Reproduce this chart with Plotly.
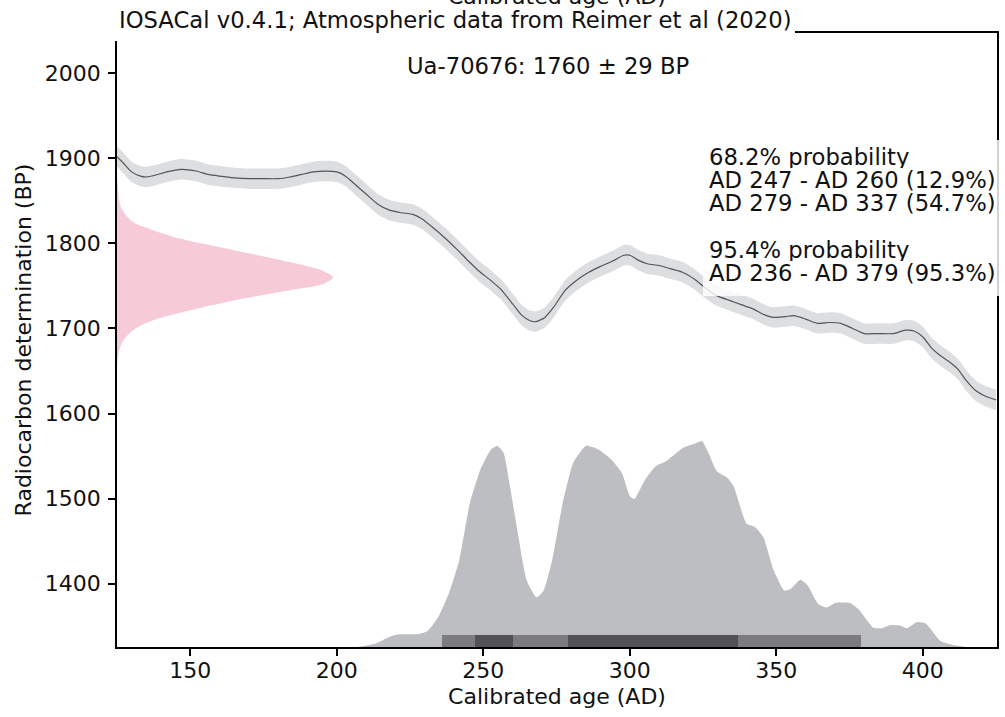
import plotly.graph_objects as go

# ---- calibration curve (IntCal20) ----
curve_ad = [125, 127, 130, 133, 135, 138, 142, 147, 152, 156, 160, 165, 170, 175, 180, 184, 188, 192, 196, 200,
            203, 206, 210, 214, 218, 222, 226, 229, 233, 237, 241, 245, 249, 252, 256, 260, 263, 266, 268, 271,
            274, 278, 282, 286, 290, 294, 298, 300, 303, 306, 310, 314, 318, 322, 326, 330, 334, 338, 342, 346,
            349, 353, 356, 360, 364, 368, 372, 376, 380, 385, 390, 394, 397, 400, 403, 406, 409, 412, 415, 418,
            421, 425]
curve_bp = [1902, 1895, 1884, 1879, 1878, 1880, 1884, 1887, 1885, 1881, 1879, 1877, 1876, 1876, 1876, 1878, 1881, 1884, 1885, 1884,
            1879, 1870, 1858, 1846, 1839, 1836, 1834, 1829, 1818, 1806, 1793, 1779, 1766, 1758, 1746, 1729, 1716, 1709, 1708, 1713,
            1725, 1745, 1757, 1766, 1773, 1779, 1786, 1786, 1780, 1776, 1774, 1770, 1766, 1758, 1747, 1738, 1733, 1728, 1723, 1716,
            1713, 1714, 1715, 1711, 1706, 1707, 1706, 1700, 1694, 1694, 1694, 1698, 1697, 1690, 1677, 1668, 1661, 1652, 1638, 1627,
            1621, 1616]
curve_err = [12, 12, 12, 12, 12, 12, 12, 12, 12, 12, 12, 12, 12, 12, 12, 12, 12, 12, 12, 12,
             12, 12, 12, 12, 12, 12, 12, 12, 12, 12, 12, 12, 12, 12, 12, 12, 12, 12, 12, 12,
             12, 12, 12, 12, 12, 12, 12, 12, 12, 12, 12, 12, 12, 12, 12, 12, 12, 12, 12, 12,
             12, 12, 12, 12, 12, 12, 12, 12, 12, 12, 12, 12, 12, 12, 12, 12, 12, 12, 12, 12,
             12, 12]

# ---- radiocarbon determination (Ua-70676: 1760 +/- 29 BP), relative density ----
rc_bp = [1882, 1870, 1856, 1841, 1825, 1817, 1805, 1792, 1778, 1768, 1760, 1752, 1745, 1733, 1719, 1708, 1698, 1684, 1669, 1652]
rc_dens = [0.0, 0.003, 0.008, 0.02, 0.074, 0.15, 0.30, 0.54, 0.80, 0.95, 1.0, 0.95, 0.80, 0.54, 0.30, 0.15, 0.074, 0.024, 0.006, 0.0]

# ---- calibrated probability distribution (relative) ----
cal_ad = [207, 213, 218.7, 221.6, 227.4, 231, 234.6, 238.2, 241.8, 245.4, 249, 252.6, 254.8, 256.9, 259.1, 262, 264.8, 268.2,
          270.6, 273.5, 277.1, 280.7, 285, 289.3, 293.7, 297.3, 300.1, 301.6, 305.2, 308.8, 312.4, 318.2, 322.5, 324.6,
          326.8, 329.7, 333.3, 335.4, 339.8, 342.6, 345.5, 349.1, 352.7, 354.9, 358.2, 360.7, 364.3, 367.2, 370.1, 375.1,
          378, 383, 385.9, 388.8, 392.4, 394.5, 398.1, 401, 406, 410.3, 414.7]
cal_p = [0.0, 0.016, 0.054, 0.062, 0.062, 0.078, 0.144, 0.258, 0.421, 0.698, 0.861, 0.959, 0.976, 0.943, 0.78, 0.535, 0.323, 0.241,
         0.274, 0.421, 0.698, 0.894, 0.976, 0.959, 0.91, 0.845, 0.731, 0.719, 0.812, 0.878, 0.902, 0.967, 0.989, 1.0,
         0.943, 0.853, 0.821, 0.78, 0.6, 0.584, 0.535, 0.372, 0.274, 0.282, 0.326, 0.299, 0.209, 0.192, 0.214, 0.214,
         0.184, 0.095, 0.091, 0.106, 0.103, 0.091, 0.121, 0.114, 0.029, 0.01, 0.0]

# ---- HPD intervals ----
hpd95_lo = [236]
hpd95_hi = [379]
hpd68_lo = [247, 279]
hpd68_hi = [260, 337]
bar_h = 0.057

x_ticks = [150, 200, 250, 300, 350, 400]
y_ticks = [1400, 1500, 1600, 1700, 1800, 1900, 2000]

title_text = "IOSACal v0.4.1; Atmospheric data from Reimer et al (2020)"
sample_text = "Ua-70676: 1760 ± 29 BP"
prob_lines = ["68.2% probability", "AD 247 - AD 260 (12.9%)", "AD 279 - AD 337 (54.7%)",
              "95.4% probability", "AD 236 - AD 379 (95.3%)"]
prob_line_y = [156, 179, 202, 249, 272]  # pixel rows

FONT = "DejaVu Sans"
FS = 22
FS_TXT = 22.7
W, H = 1005, 717
ML, MR, MT, MB = 117, 8, 33, 70
PW, PH = W - ML - MR, H - MT - MB


def py(px):
    return (H - MB - px) / PH


def pxx(px):
    return (px - ML) / PW


fig = go.Figure()

upper = [b + e for b, e in zip(curve_bp, curve_err)]
lower = [b - e for b, e in zip(curve_bp, curve_err)]
fig.add_trace(go.Scatter(x=curve_ad, y=upper, mode="lines", line=dict(width=0, shape="spline", smoothing=0.6),
                         hoverinfo="skip", showlegend=False))
fig.add_trace(go.Scatter(x=curve_ad, y=lower, mode="lines", line=dict(width=0, shape="spline", smoothing=0.6),
                         fill="tonexty", fillcolor="rgb(221,222,224)", hoverinfo="skip", showlegend=False))
fig.add_trace(go.Scatter(x=curve_ad, y=curve_bp, mode="lines",
                         line=dict(color="rgb(85,85,88)", width=1.2, shape="spline", smoothing=0.6),
                         showlegend=False))

# radiocarbon determination (pink)
fig.add_trace(go.Scatter(x=rc_dens, y=rc_bp, xaxis="x2", yaxis="y", mode="lines",
                         line=dict(width=0, shape="spline", smoothing=0.8), fill="tozerox",
                         fillcolor="rgb(246,202,214)", showlegend=False))

# calibrated distribution
fig.add_trace(go.Scatter(x=cal_ad, y=cal_p, xaxis="x", yaxis="y2", mode="lines",
                         line=dict(width=0, shape="spline", smoothing=0.5), fill="tozeroy",
                         fillcolor="rgb(189,190,193)", showlegend=False))

# HPD interval bars (own overlay so they sit above the distribution)
fig.add_trace(go.Bar(x=[(a + b) / 2 for a, b in zip(hpd95_lo, hpd95_hi)],
                     width=[b - a for a, b in zip(hpd95_lo, hpd95_hi)],
                     y=[bar_h] * len(hpd95_lo), base=0, xaxis="x", yaxis="y3",
                     marker=dict(color="rgb(124,124,128)", line=dict(width=0)), showlegend=False))
fig.add_trace(go.Bar(x=[(a + b) / 2 for a, b in zip(hpd68_lo, hpd68_hi)],
                     width=[b - a for a, b in zip(hpd68_lo, hpd68_hi)],
                     y=[bar_h] * len(hpd68_lo), base=0, xaxis="x", yaxis="y3",
                     marker=dict(color="rgb(82,82,86)", line=dict(width=0)), showlegend=False))

axis_common = dict(showline=True, linecolor="black", linewidth=1.6, mirror=True, ticks="outside",
                   ticklen=7, tickwidth=1.6, tickcolor="black", showgrid=False, zeroline=False,
                   automargin=False, tickfont=dict(family=FONT, size=FS, color="#111"))

fig.update_layout(
    template="none",
    width=W, height=H, margin=dict(l=ML, r=MR, t=MT, b=MB),
    paper_bgcolor="white", plot_bgcolor="white", barmode="overlay", bargap=0,
    xaxis=dict(range=[125, 425.3], tickvals=x_ticks, ticklabelstandoff=-4, **axis_common,
               title=dict(text="Calibrated age (AD)", font=dict(family=FONT, size=FS, color="#111"), standoff=6)),
    yaxis=dict(range=[1325.7, 2047.2], tickvals=y_ticks, ticklabelstandoff=3, **axis_common,
               title=dict(text="Radiocarbon determination (BP)", font=dict(family=FONT, size=FS, color="#111"),
                          standoff=7)),
    xaxis2=dict(overlaying="x", range=[0, PW / 216], visible=False),
    yaxis2=dict(overlaying="y", range=[0, PH / 206], visible=False),
    yaxis3=dict(overlaying="y", range=[0, PH / 206], visible=False),
    font=dict(family=FONT, color="#111"),
)

# white box behind the title (hides the top-left spine)
fig.add_shape(type="rect", xref="paper", yref="paper", x0=pxx(111), x1=pxx(795), y0=py(41), y1=py(4),
              fillcolor="white", line=dict(width=0), layer="above")
# semi-transparent box behind probability text
fig.add_shape(type="rect", xref="paper", yref="paper", x0=pxx(703), x1=pxx(1010), y0=py(296), y1=py(140),
              fillcolor="rgba(255,255,255,0.82)", line=dict(width=0), layer="above")

# cut top axis label
fig.add_annotation(text="Calibrated age (AD)", xref="paper", yref="paper", x=0.5, y=py(-3),
                   xanchor="center", yanchor="middle", showarrow=False,
                   font=dict(family=FONT, size=FS, color="#111"))
fig.add_annotation(text=title_text, xref="paper", yref="paper", x=pxx(117), y=py(20),
                   xanchor="left", yanchor="middle", showarrow=False,
                   font=dict(family=FONT, size=FS_TXT, color="#111"))
fig.add_annotation(text=sample_text, xref="paper", yref="paper", x=pxx(548), y=py(66),
                   xanchor="center", yanchor="middle", showarrow=False,
                   font=dict(family=FONT, size=FS_TXT, color="#111"))
for t, yy in zip(prob_lines, prob_line_y):
    fig.add_annotation(text=t, xref="paper", yref="paper", x=pxx(708), y=py(yy),
                       xanchor="left", yanchor="middle", showarrow=False, height=23, borderpad=0,
                       font=dict(family=FONT, size=FS_TXT, color="#111"))

fig.write_html("out.html", config={"displayModeBar": False},
               post_script="document.body.style.margin='0';document.body.style.overflow='hidden';")
